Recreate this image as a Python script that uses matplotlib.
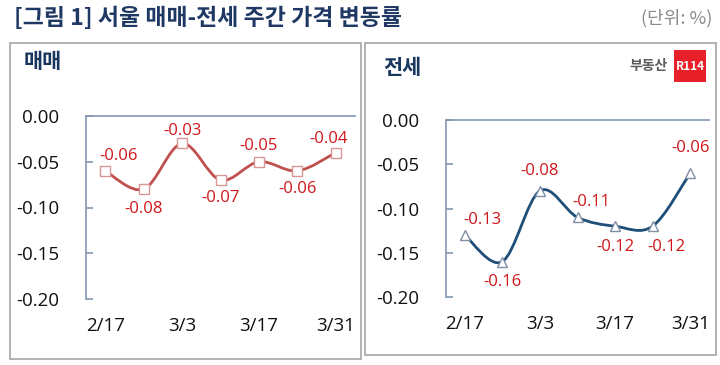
import matplotlib
matplotlib.use("Agg")
import matplotlib.pyplot as plt
from matplotlib.path import Path
from matplotlib.patches import PathPatch, Rectangle
import numpy as np

plt.rcParams['font.family'] = ['Noto Sans CJK KR', 'DejaVu Sans']
NUMFONT = ['Open Sans', 'Noto Sans CJK KR', 'DejaVu Sans']

# ---- data ----
weeks = ['2/17', '2/24', '3/3', '3/10', '3/17', '3/24', '3/31']
tick_labels = ['2/17', '', '3/3', '', '3/17', '', '3/31']
sale = [-0.06, -0.08, -0.03, -0.07, -0.05, -0.06, -0.04]
jeonse = [-0.13, -0.16, -0.08, -0.11, -0.12, -0.12, -0.06]
yticks = [0.00, -0.05, -0.10, -0.15, -0.20]

title = '[그림 1] 서울 매매-전세 주간 가격 변동률'
unit = '(단위: %)'

# label offsets in points (style)
sale_off = [(10, 11), (0, -14), (0, 9), (0, -13), (0, 11), (0, -13), (-5, 10)]
jeonse_off = [(13, 11), (0, -15), (0, 14), (10, 11), (0, -15), (10, -15), (0, 18)]

W, H = 720, 365
fig = plt.figure(figsize=(W / 100, H / 100), dpi=100)


def fx(px):
    return px / W


def fy(py):
    return 1 - py / H


def smooth_path(xs, ys):
    P = np.column_stack([xs, ys]).astype(float)
    n = len(P)
    verts = [P[0]]
    codes = [Path.MOVETO]
    for i in range(n - 1):
        p0 = P[i - 1] if i > 0 else P[i]
        p1 = P[i]
        p2 = P[i + 1]
        p3 = P[i + 2] if i + 2 < n else P[i + 1]
        c1 = p1 + (p2 - p0) / 6
        c2 = p2 - (p3 - p1) / 6
        verts += [c1, c2, p2]
        codes += [Path.CURVE4] * 3
    return Path(verts, codes)


# panel borders
for (x0, y0, x1, y1) in [(10, 43, 361, 359), (365, 43, 716, 355)]:
    fig.add_artist(Rectangle((fx(x0), fy(y1)), fx(x1 - x0), (y1 - y0) / H,
                             transform=fig.transFigure, fill=False,
                             edgecolor='#a6a6a6', linewidth=1.2))

spine_col = '#8497b0'


def make_panel(rect, values, color, marker, medge, offs):
    ax = fig.add_axes(rect)
    x = np.arange(len(values))
    patch = PathPatch(smooth_path(x, values), facecolor='none', edgecolor=color,
                      linewidth=2.0, zorder=3)
    ax.add_patch(patch)
    ax.plot(x, values, linestyle='none', marker=marker, markersize=7,
            markerfacecolor='white', markeredgecolor=medge, markeredgewidth=1.0,
            zorder=4)
    for xi, v, (dx, dy) in zip(x, values, offs):
        ax.annotate(f'{v:.2f}', (xi, v), xytext=(dx, dy), textcoords='offset points',
                    ha='center', va='center', fontsize=12, color='#d0161b',
                    family=NUMFONT, zorder=5)
    ax.set_xlim(-0.5, len(values) - 0.5)
    ax.set_ylim(-0.20, 0.0)
    ax.set_yticks(yticks)
    ax.set_yticklabels([f'{t:.2f}' for t in yticks], family=NUMFONT)
    ax.set_xticks(x)
    ax.set_xticklabels(tick_labels, family=NUMFONT)
    for s in ['right', 'bottom']:
        ax.spines[s].set_visible(False)
    for s in ['left', 'top']:
        ax.spines[s].set_color(spine_col)
        ax.spines[s].set_linewidth(1.2)
    ax.tick_params(axis='y', direction='in', length=5, width=1.2, color=spine_col,
                   labelsize=13.5, pad=19, labelcolor='#111111')
    ax.tick_params(axis='x', length=0, labelsize=13.5, pad=13, labelcolor='#111111')
    ax.patch.set_alpha(0)
    return ax


make_panel([fx(86), fy(299), fx(355 - 86), (299 - 116) / H], sale,
           '#c0504d', 's', '#d99694', sale_off)
make_panel([fx(446), fy(297), fx(709 - 446), (297 - 120) / H], jeonse,
           '#1f4e79', '^', '#7f8fa6', jeonse_off)

# titles
fig.text(fx(14), fy(18), title, fontsize=16.5, fontweight='bold', color='#1f3864',
         ha='left', va='center')
fig.text(fx(712), fy(18), unit, fontsize=13, color='#8a8a8a', ha='right', va='center')
fig.text(fx(24), fy(62), '매매', fontsize=15, fontweight='bold', color='#17375e',
         ha='left', va='center')
fig.text(fx(383), fy(67), '전세', fontsize=15, fontweight='bold', color='#17375e',
         ha='left', va='center')

# logo
fig.add_artist(Rectangle((fx(674), fy(82)), fx(32), 32 / H, transform=fig.transFigure,
                         facecolor='#e8202a', edgecolor='none'))
fig.text(fx(690), fy(66), 'R114', fontsize=8.5, fontweight='bold', color='white',
         ha='center', va='center')
fig.text(fx(668), fy(66), '부동산', fontsize=10, fontweight='bold', color='#5a5a5a',
         ha='right', va='center')

fig.savefig('out.png', dpi=100)
